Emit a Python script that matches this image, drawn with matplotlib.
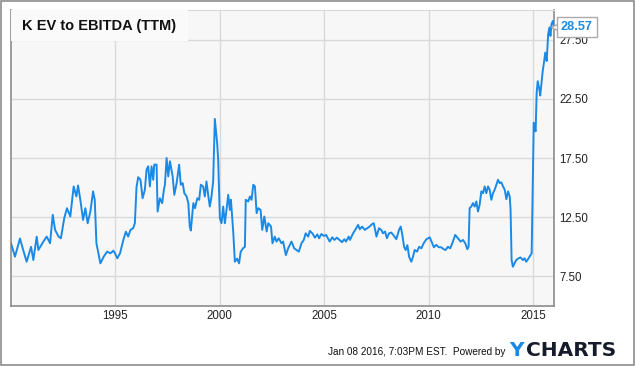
import matplotlib
matplotlib.use("Agg")
import matplotlib.pyplot as plt
import matplotlib.transforms as mtransforms
from matplotlib.patches import Rectangle

years = [
    1990.0, 1990.19, 1990.43, 1990.56, 1990.75, 1990.96, 1991.07, 1991.23, 1991.31, 1991.55,
    1991.71, 1991.87, 1992.0, 1992.11, 1992.28, 1992.39, 1992.55, 1992.68, 1992.84, 1993.0,
    1993.13, 1993.21, 1993.32, 1993.45, 1993.56, 1993.67, 1993.8, 1993.93, 1994.01, 1994.09,
    1994.28, 1994.44, 1994.6, 1994.76, 1994.9, 1994.98, 1995.09, 1995.22, 1995.38, 1995.5,
    1995.61, 1995.72, 1995.85, 1995.93, 1996.01, 1996.09, 1996.2, 1996.3, 1996.41, 1996.49,
    1996.57, 1996.65, 1996.73, 1996.81, 1996.86, 1996.97, 1997.02, 1997.13, 1997.24, 1997.32,
    1997.37, 1997.45, 1997.53, 1997.61, 1997.74, 1997.82, 1997.93, 1998.05, 1998.13, 1998.22,
    1998.3, 1998.41, 1998.49, 1998.56, 1998.61, 1998.73, 1998.81, 1998.92, 1999.01, 1999.09,
    1999.2, 1999.28, 1999.36, 1999.44, 1999.52, 1999.6, 1999.68, 1999.76, 1999.87, 1999.92,
    2000.0, 2000.08, 2000.16, 2000.24, 2000.32, 2000.4, 2000.48, 2000.53, 2000.64, 2000.72,
    2000.83, 2000.92, 2001.0, 2001.11, 2001.2, 2001.24, 2001.36, 2001.44, 2001.52, 2001.6,
    2001.68, 2001.76, 2001.84, 2001.95, 2002.03, 2002.13, 2002.24, 2002.32, 2002.45, 2002.52,
    2002.63, 2002.71, 2002.82, 2002.95, 2003.03, 2003.16, 2003.27, 2003.43, 2003.56, 2003.67,
    2003.78, 2003.91, 2004.02, 2004.11, 2004.23, 2004.31, 2004.43, 2004.55, 2004.67, 2004.75,
    2004.86, 2004.98, 2005.09, 2005.26, 2005.38, 2005.49, 2005.6, 2005.73, 2005.85, 2005.96,
    2006.04, 2006.17, 2006.23, 2006.38, 2006.5, 2006.62, 2006.7, 2006.81, 2006.94, 2007.06,
    2007.17, 2007.3, 2007.37, 2007.5, 2007.62, 2007.73, 2007.81, 2007.91, 2008.0, 2008.1,
    2008.21, 2008.34, 2008.45, 2008.58, 2008.66, 2008.74, 2008.82, 2008.9, 2008.98, 2009.06,
    2009.17, 2009.25, 2009.33, 2009.44, 2009.54, 2009.65, 2009.76, 2009.89, 2010.05, 2010.16,
    2010.25, 2010.36, 2010.49, 2010.6, 2010.71, 2010.81, 2010.92, 2011.03, 2011.16, 2011.27,
    2011.4, 2011.53, 2011.64, 2011.75, 2011.85, 2011.91, 2011.96, 2012.04, 2012.12, 2012.2,
    2012.28, 2012.36, 2012.44, 2012.52, 2012.6, 2012.68, 2012.76, 2012.84, 2012.92, 2013.0,
    2013.08, 2013.16, 2013.24, 2013.32, 2013.4, 2013.48, 2013.56, 2013.64, 2013.72, 2013.8,
    2013.88, 2013.92, 2013.97, 2014.03, 2014.11, 2014.19, 2014.3, 2014.4, 2014.51, 2014.59,
    2014.67, 2014.75, 2014.83, 2014.93, 2015.0, 2015.03, 2015.09, 2015.12, 2015.17, 2015.22,
    2015.3, 2015.34, 2015.41, 2015.46, 2015.54, 2015.58, 2015.65, 2015.72, 2015.78, 2015.83,
    2015.88, 2015.95, 2016.0,
]
ev_ebitda = [
    10.3, 9.17, 10.7, 9.87, 8.74, 10.0, 8.88, 10.86, 9.73, 10.44,
    10.86, 10.3, 12.7, 11.43, 10.86, 10.72, 12.42, 13.26, 12.56, 15.1,
    14.25, 15.18, 13.97, 12.27, 13.26, 11.99, 12.98, 14.68, 13.97, 10.3,
    8.6, 9.17, 9.59, 9.45, 9.67, 9.45, 9.03, 9.45, 10.58, 11.28,
    10.86, 11.43, 11.57, 11.99, 15.04, 15.88, 15.66, 14.1, 14.82, 16.51,
    16.8, 15.1, 16.8, 15.66, 16.94, 16.94, 12.98, 14.1, 13.69, 14.82,
    15.24, 17.5, 15.95, 17.22, 15.95, 14.39, 15.38, 16.94, 15.24, 15.38,
    14.53, 14.25, 13.69, 11.71, 11.37, 13.69, 13.26, 14.1, 13.97, 15.24,
    15.1, 14.25, 15.52, 14.39, 13.4, 14.25, 15.52, 20.8, 18.77, 17.36,
    12.42, 11.99, 13.4, 11.99, 13.12, 14.39, 13.12, 13.97, 11.28, 8.74,
    9.0, 8.6, 9.59, 9.87, 10.0, 13.97, 13.83, 14.25, 13.97, 15.24,
    15.1, 12.84, 13.26, 13.12, 11.43, 12.56, 11.29, 11.99, 11.71, 10.3,
    10.86, 10.44, 10.72, 10.3, 10.44, 9.3, 9.87, 10.44, 9.87, 9.73,
    9.59, 10.3, 10.58, 11.14, 10.86, 11.34, 11.14, 10.77, 11.05, 10.72,
    11.08, 10.92, 11.0, 10.44, 10.8, 10.58, 10.77, 10.58, 10.39, 10.64,
    10.44, 10.86, 10.58, 11.14, 11.48, 11.85, 11.48, 11.71, 11.43, 11.57,
    11.71, 11.93, 11.99, 10.86, 11.57, 11.43, 11.14, 11.29, 10.72, 11.14,
    11.2, 10.92, 10.64, 11.43, 11.71, 11.0, 10.0, 9.73, 10.14, 9.17,
    8.74, 9.17, 9.73, 9.59, 10.0, 9.87, 10.3, 10.64, 10.8, 10.35,
    9.96, 10.16, 9.96, 9.96, 9.8, 9.73, 10.0, 9.87, 10.44, 11.0,
    10.72, 10.44, 10.58, 10.3, 9.8, 10.0, 13.26, 13.4, 13.69, 13.4,
    13.83, 12.98, 13.55, 14.68, 14.53, 15.1, 14.53, 15.1, 14.82, 13.97,
    14.53, 14.82, 15.24, 15.66, 15.38, 15.44, 15.1, 14.82, 14.02, 14.68,
    14.25, 13.12, 8.88, 8.32, 8.6, 8.88, 9.03, 9.1, 8.88, 9.03,
    8.74, 8.94, 9.17, 9.45, 17.36, 20.47, 19.9, 19.75, 23.0, 23.99,
    23.28, 22.78, 23.99, 24.84, 25.83, 26.4, 25.69, 27.95, 28.52, 27.81,
    28.8, 29.08, 28.57,
]
x_ticks = [1995, 2000, 2005, 2010, 2015]
y_ticks = [7.5, 12.5, 17.5, 22.5, 27.5]
y_tick_labels = ["7.50", "12.50", "17.50", "22.50", "27.50"]
title = "K EV to EBITDA (TTM)"
last_label = "28.57"
footer = "Jan 08 2016, 7:03PM EST.  Powered by"

LINE = "#1b8ae6"
fig = plt.figure(figsize=(6.35, 3.66), dpi=100)
fig.patch.set_facecolor("white")
fig.patches.append(Rectangle((0.0008, 0.0014), 0.9984, 0.9972, transform=fig.transFigure,
                             fill=False, edgecolor="#8c8c8c", linewidth=1.2))

ax = fig.add_axes([11 / 635, 60 / 366, 543 / 635, 296 / 366])
ax.set_facecolor("#f7f7f7")
ax.plot(years, ev_ebitda, color=LINE, linewidth=1.4, solid_joinstyle="round", zorder=3)
ax.set_xlim(1990, 2016)
ax.set_ylim(5, 30)
ax.set_xticks(x_ticks)
ax.set_xticklabels([str(t) for t in x_ticks])
ax.set_yticks(y_ticks)
ax.set_yticklabels(y_tick_labels)
ax.yaxis.tick_right()
ax.grid(True, color="#d9d9d9", linewidth=1.0, zorder=0)
ax.tick_params(axis="both", length=0, labelsize=8.3, labelcolor="#222222", colors="#222222")
ax.tick_params(axis="y", pad=4)
ax.tick_params(axis="x", pad=3)
for lab in ax.get_xticklabels() + ax.get_yticklabels():
    lab.set_family("Liberation Sans")
for name in ["left", "bottom", "right"]:
    ax.spines[name].set_color("#8c8c8c")
    ax.spines[name].set_linewidth(1.2)
ax.spines["top"].set_color("#d9d9d9")

# title box
ax.add_patch(Rectangle((0, 0.895), 0.326, 0.105, transform=ax.transAxes,
                       facecolor="#fafafa", edgecolor="none", zorder=4))
ax.text(0.02, 0.947, title, transform=ax.transAxes, fontsize=10.5, fontweight="bold",
        family="Liberation Sans", color="#111111", va="center", ha="left", zorder=5)

# last value label with pointer
ly = ev_ebitda[-1]
blend = mtransforms.blended_transform_factory(ax.transAxes, ax.transData)
ptr = blend + mtransforms.ScaledTranslation(2.0 / 72, 0, fig.dpi_scale_trans)
ax.plot([1.0], [ly], marker="<", markersize=8, markerfacecolor="white",
        markeredgecolor="#aaaaaa", markeredgewidth=1.0, transform=ptr,
        clip_on=False, zorder=6)
ax.annotate(last_label, xy=(1.0, ly), xycoords=("axes fraction", "data"),
            xytext=(5.0, 0), textcoords="offset points", fontsize=9.2, fontweight="bold",
            family="Liberation Sans", color=LINE, va="center", ha="left",
            bbox=dict(boxstyle="square,pad=0.3", facecolor="white", edgecolor="#aaaaaa",
                      linewidth=1.0),
            annotation_clip=False, zorder=7)

# footer
fig.text(505 / 635, 1 - 352 / 366, footer, fontsize=7.2, family="Liberation Sans",
         color="#111111", ha="right", va="center")
fig.text(509 / 635, 1 - 351 / 366, "Y", fontsize=14.5, fontweight="bold",
         family="DejaVu Sans", color="#1b8ae6", ha="left", va="center")
fig.text(526 / 635, 1 - 351 / 366, "CHARTS", fontsize=14.5, fontweight="bold",
         family="DejaVu Sans", color="#151b2b", ha="left", va="center")

fig.savefig("out.png", dpi=100)
